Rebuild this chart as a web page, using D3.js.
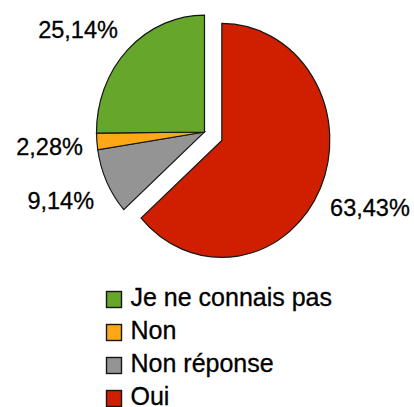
<!DOCTYPE html>
<html>
<head>
<meta charset="utf-8">
<script src="https://cdnjs.cloudflare.com/ajax/libs/d3/7.8.5/d3.min.js"></script>
<style>
  body { margin: 0; background: #fff; }
  svg { display: block; font-family: "Liberation Sans", Arial, Helvetica, sans-serif; }
</style>
</head>
<body>
<script>
const categories = ["Je ne connais pas", "Non", "Non réponse", "Oui"]; //Legend order.
const shares = [25.14, 2.28, 9.14, 63.43]; //Percent for each category.
const colours = ["#66a62a", "#fda814", "#949494", "#cf1f00"];
const exploded = ["Oui"]; //Slices pulled out of the pie.

const svgWidth = 414;
const svgHeight = 407;
const cx = 204.5, cy = 132; //Centre of the pie.
const radius = 108;
const stretch = 1.083; //The pie is a little taller than wide.
const explode = 19;
const labelRadius = 122;

const fr = d3.formatLocale({ decimal: ",", thousands: " ", grouping: [3], currency: ["", "€"] });
const pct = fr.format(".2f");

let rows = categories.map(function(c, i) {
  return { name: c, value: shares[i], colour: colours[i] };
});

//Pie goes clockwise from 12 o'clock, in reverse legend order.
let pie = d3.pie()
  .sort(null)
  .value(function(d) { return d.value; });
let arcs = pie(rows.slice().reverse());

let arc = d3.arc().innerRadius(0).outerRadius(radius);

let svg = d3.select("body")
  .append("svg")
  .attr("width", svgWidth)
  .attr("height", svgHeight);

let pieG = svg.append("g")
  .attr("transform", "translate(" + cx + "," + cy + ") scale(1," + stretch + ")");

pieG.selectAll("path")
  .data(arcs)
  .enter()
  .append("path")
  .attr("d", arc)
  .attr("fill", function(d) { return d.data.colour; })
  .attr("stroke", "#161616")
  .attr("stroke-width", 1.2)
  .attr("stroke-linejoin", "miter")
  .attr("vector-effect", "non-scaling-stroke")
  .attr("transform", function(d) {
    if (exploded.indexOf(d.data.name) < 0) return null;
    let a = (d.startAngle + d.endAngle) / 2;
    return "translate(" + (Math.sin(a) * explode) + "," + (-Math.cos(a) * explode) + ")";
  });

//Percent labels outside the slices.
const labelSize = 23.5;
svg.append("g")
  .selectAll("text")
  .data(arcs)
  .enter()
  .append("text")
  .attr("font-size", labelSize)
  .attr("fill", "#000")
  .attr("stroke", "#000")
  .attr("stroke-width", 0.3)
  .attr("text-anchor", function(d) {
    let a = (d.startAngle + d.endAngle) / 2;
    return Math.sin(a) < 0 ? "end" : "start";
  })
  .attr("x", function(d) {
    let a = (d.startAngle + d.endAngle) / 2;
    let off = exploded.indexOf(d.data.name) < 0 ? 0 : explode;
    return cx + Math.sin(a) * (labelRadius + off) - (exploded.indexOf(d.data.name) < 0 ? 0 : 3);
  })
  .attr("y", function(d) {
    let a = (d.startAngle + d.endAngle) / 2;
    let off = exploded.indexOf(d.data.name) < 0 ? 0 : explode;
    let py = cy - Math.cos(a) * (labelRadius + off) * stretch;
    let c = -Math.cos(a);
    let shift = Math.sign(c) * Math.min(1, Math.abs(c) * 3) * 11; //Push text away from the pie vertically.
    return py + shift + labelSize * 0.36 + 1.5;
  })
  .text(function(d) { return pct(d.data.value) + "%"; });

//Legend.
const legendX = 106.5;
const legendY = 306;
const legendStep = 33;
let legend = svg.append("g")
  .selectAll("g")
  .data(rows)
  .enter()
  .append("g")
  .attr("transform", function(d, i) { return "translate(" + legendX + "," + (legendY + i * legendStep) + ")"; });

legend.append("rect")
  .attr("x", 0)
  .attr("y", -14.5)
  .attr("width", 15)
  .attr("height", 16)
  .attr("fill", function(d) { return d.colour; })
  .attr("stroke", "#161616")
  .attr("stroke-width", 1.4);

legend.append("text")
  .attr("x", 24)
  .attr("y", 0)
  .attr("font-size", 25)
  .attr("fill", "#000")
  .attr("stroke", "#000")
  .attr("stroke-width", 0.3)
  .text(function(d) { return d.name; });
</script>
</body>
</html>
